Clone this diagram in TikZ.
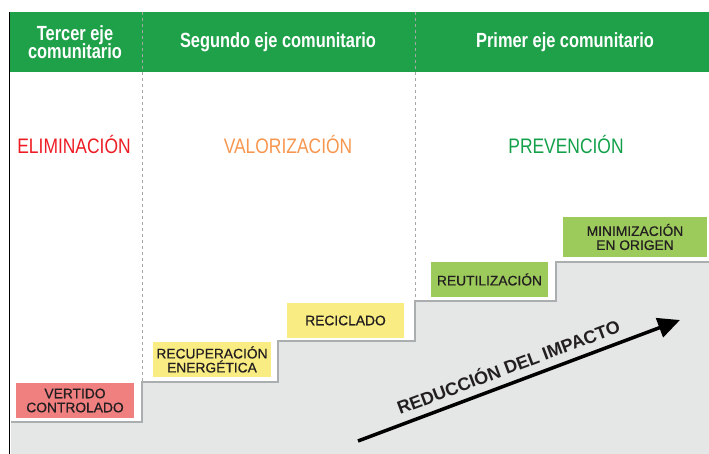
\documentclass[tikz,border=0pt]{standalone}
\usepackage{fontspec}
\setmainfont{Liberation Sans}
\newfontfamily\narrowfont[FakeStretch=0.8]{Liberation Sans}
\newfontfamily\catfont[FakeStretch=0.83]{Liberation Sans}
\newfontfamily\boxfont[FakeBold=0.6]{Liberation Sans}
\usetikzlibrary{arrows.meta}
\definecolor{headgreen}{RGB}{31,161,74}
\definecolor{rojo}{RGB}{237,28,36}
\definecolor{naranja}{RGB}{247,150,79}
\definecolor{verde}{RGB}{19,160,74}
\definecolor{rosa}{RGB}{240,127,128}
\definecolor{amarillo}{RGB}{248,236,130}
\definecolor{verdeclaro}{RGB}{157,203,91}
\definecolor{escalera}{RGB}{228,231,230}
\definecolor{borde}{RGB}{170,174,174}
\definecolor{texto}{RGB}{35,31,32}
\begin{document}
\begin{tikzpicture}[x=1pt, y=-1pt]
\tikzstyle{head} = [text=white, align=center, font=\narrowfont\bfseries\fontsize{20.5}{21}\selectfont]
\tikzstyle{cat} = [font=\catfont\fontsize{21}{22}\selectfont]
\tikzstyle{box} = [minimum height=35pt, inner sep=0pt, align=center, text=texto, font=\boxfont\fontsize{13.8}{14}\selectfont]
\useasboundingbox (0,0) rectangle (709,454);
% escalera gris
\fill[escalera] (11,454) -- (11,422) -- (142,422) -- (142,382) -- (278,382) -- (278,341)
  -- (415,341) -- (415,301) -- (556,301) -- (556,262) -- (709,262) -- (709,454) -- cycle;
\draw[borde, line width=1.5pt] (11,422) -- (142,422) -- (142,382) -- (278,382) -- (278,341)
  -- (415,341) -- (415,301) -- (556,301) -- (556,262) -- (709,262);
% cabecera
\fill[headgreen] (9,12) rectangle (709,72);
\foreach \x/\y in {142/382, 415/301}
\draw[gray!70, dashed, line width=0.8pt] (\x,12) -- (\x,\y);
\draw[black, line width=1pt] (9,12) -- (9,454);
\node[head] (tercer) at (75,42) {Tercer eje\\[-3pt]comunitario};
\node[head] (segundo) at (278,42) {Segundo eje comunitario};
\node[head] (primer) at (565,42) {Primer eje comunitario};
\node[cat, text=rojo] (eliminacion) at (74,144) {ELIMINACIÓN};
\node[cat, text=naranja] (valorizacion) at (288,144) {VALORIZACIÓN};
\node[cat, text=verde] (prevencion) at (566,144) {PREVENCIÓN};
% cajas
\node[box, fill=rosa, minimum width=118pt] (vertido) at (75,400.5) {VERTIDO\\CONTROLADO};
\node[box, fill=amarillo, minimum width=118pt] (recuperacion) at (212,359.5) {RECUPERACIÓN\\ENERGÉTICA};
\node[box, fill=amarillo, minimum width=117pt] (reciclado) at (345.5,320.5) {RECICLADO};
\node[box, fill=verdeclaro, minimum width=117pt] (reutilizacion) at (489.5,279.5) {REUTILIZACIÓN};
\node[box, fill=verdeclaro, minimum width=144pt, minimum height=40pt] (minimizacion) at (635,237) {MINIMIZACIÓN\\EN ORIGEN};
% flecha
\coordinate (inicio) at (358,441);
\coordinate (fin) at (680,320);
\draw[line width=3.5pt, -{Triangle[length=22pt, width=20pt]}] (inicio) -- (fin);
\node[rotate=20.6, text=texto, font=\bfseries\fontsize{18}{19}\selectfont] (reduccion) at (508,366) {REDUCCIÓN DEL IMPACTO};
\end{tikzpicture}
\end{document}
